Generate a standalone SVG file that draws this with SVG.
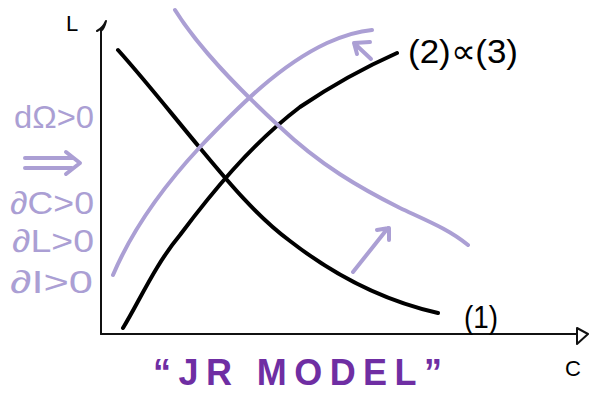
<svg xmlns="http://www.w3.org/2000/svg" width="589" height="394" viewBox="0 0 589 394">
<style>
.ax{fill:none;stroke:#111;stroke-width:2;stroke-linecap:round;stroke-linejoin:round}
.blk{fill:none;stroke:#000;stroke-width:4;stroke-linecap:round;stroke-linejoin:round}
.lav{fill:none;stroke:#ab9fd4;stroke-width:4;stroke-linecap:round;stroke-linejoin:round}
.tb{font-family:"Liberation Sans",Arial,sans-serif;fill:#000}
.tl{font-family:"Liberation Sans","DejaVu Sans",sans-serif;fill:#ab9fd4}
.tp{font-family:"Liberation Sans",Arial,sans-serif;fill:#6f2ea3;font-weight:bold}
</style>
<rect width="589" height="394" fill="#fff"/>
<g id="axes">
<path class="ax" d="M101,334 L101,30"/>
<path class="ax" d="M97,31 Q103,28 106,21 Q104,29 101,31"/>
<path class="ax" d="M101,334 L577,334"/>
<path class="ax" d="M577,328 L588,334 L577,344 Z"/>
<text class="tb" x="66" y="31" font-size="22">L</text>
<text class="tb" x="565" y="376" font-size="22">C</text>
</g>
<g id="connectors">
<path id="curve1" class="blk" d="M118,50 C145,80 170,112 200,148 C225,178 255,215 290,241 C330,272 380,300 438,313"/>
<path id="curve2" class="blk" d="M123,328 C140,300 155,265 180,235 C210,195 250,145 300,107 C340,80 370,65 397,53"/>
<path id="curve2s" class="lav" d="M113,275 C130,235 160,190 200,147 C240,105 280,65 327,43 C345,35 360,31 372,30"/>
<path id="curve1s" class="lav" d="M175,10 C200,50 240,90 280,127 C320,165 360,188 400,208 C430,222 450,230 468,245"/>
<path class="lav" d="M371,59 L355,44 M370,42 L354,43 L357,54"/>
<path class="lav" d="M353,272 L388,228 M377,230 L389,228 L389,240"/>
</g>
<g id="labels">
<text class="tb" x="408" y="63" font-size="34" textLength="110" lengthAdjust="spacingAndGlyphs">(2)∝(3)</text>
<text class="tb" x="464" y="328" font-size="32" textLength="34" lengthAdjust="spacingAndGlyphs">(1)</text>
</g>
<g id="conditions">
<text class="tl" x="14" y="128" font-size="32" textLength="80" lengthAdjust="spacingAndGlyphs">dΩ&gt;0</text>
<path class="lav" d="M25,158 L72,158 M25,168 L72,168 M66,152 L80,163 L66,174"/>
<text class="tl" x="10" y="214" font-size="32" textLength="84" lengthAdjust="spacingAndGlyphs">∂C&gt;0</text>
<text class="tl" x="12" y="252" font-size="32" textLength="82" lengthAdjust="spacingAndGlyphs">∂L&gt;0</text>
<text class="tl" x="10" y="293" font-size="32" textLength="83" lengthAdjust="spacingAndGlyphs">∂I&gt;0</text>
</g>
<g id="title">
<text class="tp" x="153" y="385" font-size="36" textLength="289" lengthAdjust="spacing">“JR MODEL”</text>
</g>
</svg>
